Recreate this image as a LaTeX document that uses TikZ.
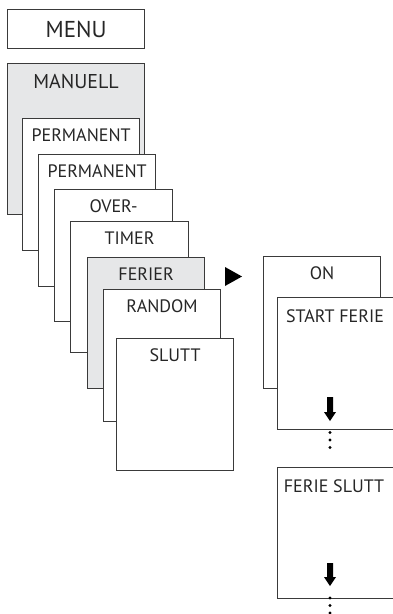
\documentclass[tikz,border=0pt]{standalone}
\usepackage{fontspec}
\setmainfont{PT Sans}
\definecolor{edge}{HTML}{3A3A3A}
\definecolor{shade}{HTML}{E6E7E8}
\tikzset{
  card/.style={draw=edge, line width=1.2pt, fill=white, inner sep=0pt, anchor=north west, rectangle},
  greycard/.style={card, fill=shade},
  lab/.style={anchor=base, inner sep=0pt, font=\fontsize{18}{21}\selectfont, text=black!85},
  bigla/.style={lab, font=\fontsize{20}{24}\selectfont},
  menula/.style={lab, font=\fontsize{23}{27}\selectfont},
  dot/.style={fill=black, circle, inner sep=0pt, minimum size=3.4pt}
}
\begin{document}
\begin{tikzpicture}[x=1pt,y=-1pt]
\clip (0,0) rectangle (393,614);
\fill[white] (0,0) rectangle (393,614);
% MENU
\node[card, minimum width=137, minimum height=39] (menu) at (7,9) {};
\node[menula] (menut) at ([yshift=-28]menu.north) {MENU};
% MANUELL
\node[greycard, minimum width=137, minimum height=151] (man) at (7,63) {};
\node[bigla] (mant) at ([yshift=-25]man.north) {MANUELL};
% stack
\node[card, minimum width=117, minimum height=132] (p1) at (22,118) {};
\node[lab] (p1t) at ([yshift=-23]p1.north) {PERMANENT};
\node[card, minimum width=117, minimum height=132] (p2) at (38,154) {};
\node[lab] (p2t) at ([yshift=-23]p2.north) {PERMANENT};
\node[card, minimum width=118, minimum height=132] (ov) at (54,189) {};
\node[lab] (ovt) at ([yshift=-23]ov.north) {OVER-};
\node[card, minimum width=118, minimum height=131] (ti) at (70,221) {};
\node[lab] (tit) at ([yshift=-23]ti.north) {TIMER};
\node[greycard, minimum width=117, minimum height=131] (fe) at (87,257) {};
\node[lab] (fet) at ([yshift=-23]fe.north) {FERIER};
\node[card, minimum width=117, minimum height=132] (ra) at (103,289) {};
\node[lab] (rat) at ([yshift=-23]ra.north) {RANDOM};
\node[card, minimum width=117, minimum height=132] (sl) at (116,338) {};
\node[lab] (slt) at ([yshift=-23]sl.north) {SLUTT};
% triangle
\fill[black] (225,267) -- (242,276.5) -- (225,286) -- cycle;
% right column
\node[card, minimum width=117, minimum height=132] (on) at (263,256) {};
\node[lab] (ont) at ([yshift=-23]on.north) {ON};
\node[card, minimum width=130, minimum height=132] (sf) at (277,297) {};
\node[lab] (sft) at (335,322) {START FERIE};
\fill[black] (327,397) rectangle (333,412) (324,412) -- (336,412) -- (330,421) -- cycle;
\node[dot] (d1) at (330,432.5) {};
\node[dot] (d2) at (330,440) {};
\node[dot] (d3) at (330,447.5) {};
\node[card, minimum width=130, minimum height=131] (fs) at (277,467) {};
\node[lab] (fst) at (334,492) {FERIE SLUTT};
\fill[black] (327,563) rectangle (333,577) (324,577) -- (336,577) -- (330,586) -- cycle;
\node[dot] (e1) at (330,598) {};
\node[dot] (e2) at (330,605.5) {};
\node[dot] (e3) at (330,613) {};
\end{tikzpicture}
\end{document}
